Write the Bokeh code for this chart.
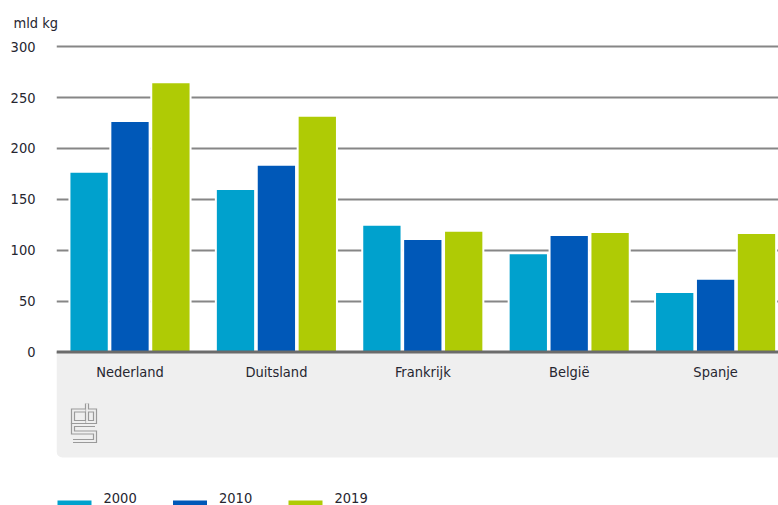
import numpy as np
from bokeh.plotting import figure
from bokeh.models import FixedTicker, Span, BoxAnnotation, ColumnDataSource, Range1d
from bokeh.core.properties import value
from bokeh.embed import file_html
from bokeh.resources import INLINE

# ---- data ----
categories = ["Nederland", "Duitsland", "Frankrijk", "België", "Spanje"]
years = ["2000", "2010", "2019"]
v2000 = [177, 160, 125, 97, 59]
v2010 = [227, 184, 111, 115, 72]
v2019 = [265, 232, 119, 118, 117]
yticks = [0, 50, 100, 150, 200, 250, 300]
unit = "mld kg"
colors = ["#00a1cd", "#0058b8", "#afcb05"]

FONT = "DejaVu Sans Condensed"
FS = "14.5px"
TXT = "#262630"

# ---- layout (picture pixels) ----
W, H = 778, 505
PX_PER_CAT = 146.4
FIRST_CENTER = 129.5
PX_PER_UNIT = 1.018
FRAME_L, FRAME_R = 56, 778
FRAME_T, FRAME_B = 40, 505
ZERO_Y = 351.5


def xd(px):
    return (px - (FIRST_CENTER - 0.5 * PX_PER_CAT)) / PX_PER_CAT


def yd(py):
    return (ZERO_Y - py) / PX_PER_UNIT


p = figure(width=W, height=H, output_backend="svg", toolbar_location=None,
           x_range=Range1d(xd(FRAME_L), xd(FRAME_R)),
           y_range=Range1d(yd(FRAME_B), yd(FRAME_T)),
           x_axis_location=None,
           min_border_left=FRAME_L, min_border_right=W - FRAME_R,
           min_border_top=FRAME_T, min_border_bottom=H - FRAME_B)
p.outline_line_color = None
p.background_fill_color = "white"
p.border_fill_color = "white"

# title
p.title.text = unit
p.title.align = "left"
p.title.offset = -43
p.title.standoff = 19
p.title.text_font = FONT
p.title.text_font_size = FS
p.title.text_font_style = "normal"
p.title.text_color = TXT

# grid
p.xgrid.visible = False
p.ygrid.ticker = FixedTicker(ticks=yticks)
p.ygrid.grid_line_color = "#868686"
p.ygrid.grid_line_width = 1.8

# y axis
p.yaxis.ticker = FixedTicker(ticks=yticks)
p.yaxis.axis_line_color = None
p.yaxis.major_tick_line_color = None
p.yaxis.minor_tick_line_color = None
p.yaxis.major_tick_out = 0
p.yaxis.major_tick_in = 0
p.yaxis.major_label_standoff = 21
p.yaxis.major_label_text_font = FONT
p.yaxis.major_label_text_font_size = FS
p.yaxis.major_label_text_color = TXT

# gray panel under the axis
panel = BoxAnnotation(left=xd(FRAME_L), right=xd(FRAME_R + 20), top=0, bottom=yd(457),
                      fill_color="#efefef", fill_alpha=1, line_color=None,
                      border_radius=(0, 0, 0, 6), level="underlay")
p.add_layout(panel)

# bars
centers = np.arange(len(categories)) + 0.5
step = 40.9 / PX_PER_CAT
bar_w = 39.3 / PX_PER_CAT
for j, (yr, vals, col) in enumerate(zip(years, [v2000, v2010, v2019], colors)):
    src = ColumnDataSource(dict(x=centers + (j - 1) * step, top=vals))
    p.vbar(x="x", top="top", bottom=0, width=bar_w, source=src,
           fill_color=col, line_color="white", line_width=2)

# zero line
p.add_layout(Span(location=0, dimension="width", line_color="#6b6b6b", line_width=3))

# category labels
lab_src = ColumnDataSource(dict(x=centers, y=[yd(371)] * len(categories), text=categories))
p.text(x="x", y="y", text="text", source=lab_src, text_align="center", text_baseline="middle",
       text_font=value(FONT), text_font_size=FS, text_color=TXT)

# CBS logo (decorative outline strokes)
logo_paths = [
    [(85, 410), (72.5, 410), (72.5, 421.5), (85, 421.5)],
    [(86.5, 403), (86.5, 421.5), (94.5, 421.5), (94.5, 410), (86.5, 410)],
    [(94.5, 424.5), (72.5, 424.5), (72.5, 432), (94.5, 432), (94.5, 440.5), (72.5, 440.5)],
]
lxs = [[xd(a) for a, b in path] for path in logo_paths]
lys = [[yd(b) for a, b in path] for path in logo_paths]
p.multi_line(lxs, lys, line_color="#9a9a9a", line_width=4.2, line_join="miter")
p.multi_line(lxs, lys, line_color="#efefef", line_width=1.8, line_join="miter")

# legend (manual)
LEG_X0, LEG_STEP, LEG_TXT = 57, 115.5, 46
sw_x = [xd(LEG_X0 + 17 + i * LEG_STEP) for i in range(len(years))]
p.rect(x=sw_x, y=[yd(507)] * len(years), width=34, height=14,
       width_units="screen", height_units="screen", fill_color=colors, line_color=None)
leg_src = ColumnDataSource(dict(x=[xd(LEG_X0 + LEG_TXT + i * LEG_STEP) for i in range(len(years))],
                                y=[yd(497.5)] * len(years), text=years))
p.text(x="x", y="y", text="text", source=leg_src, text_align="left", text_baseline="middle",
       text_font=value(FONT), text_font_size=FS, text_color=TXT)

open("out.html", "w").write(file_html(p, INLINE))
